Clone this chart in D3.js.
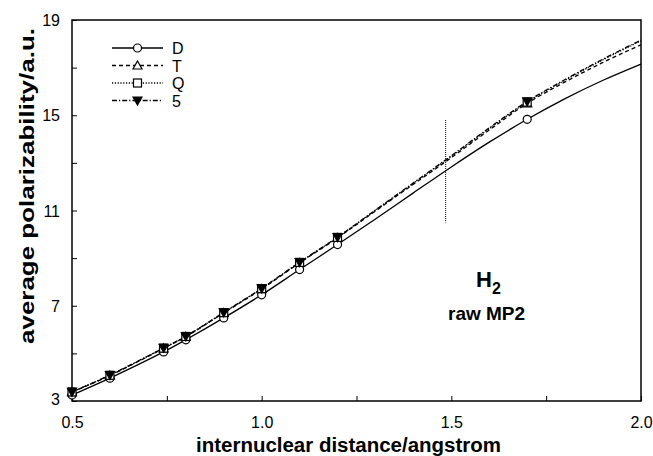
<!DOCTYPE html>
<html>
<head>
<meta charset="utf-8">
<script src="https://cdn.jsdelivr.net/npm/d3@7"></script>
<style>
  body { margin: 0; background: #fff; }
  text { font-family: "Liberation Sans", Arial, Helvetica, sans-serif; }
</style>
</head>
<body>
<svg width="653" height="456"></svg>
<script>
// distance grid (angstrom) and the points that carry a marker
const rGrid   = [0.5, 0.6, 0.7414, 0.8, 0.9, 1.0, 1.1, 1.2, 1.3, 1.4, 1.5, 1.6, 1.7, 1.8, 1.9, 2.0];
const markedR = [0.5, 0.6, 0.7414, 0.8, 0.9, 1.0, 1.1, 1.2, 1.7];

// average polarizability, a.u.
const alphaD  = [3.25, 3.96, 5.06, 5.57, 6.49, 7.46, 8.52, 9.57, 10.64, 11.74, 12.83, 13.87, 14.83, 15.70, 16.47, 17.15];
const alphaT  = [3.37, 4.07, 5.21, 5.70, 6.70, 7.70, 8.80, 9.85, 10.98, 12.10, 13.22, 14.38, 15.50, 16.40, 17.22, 17.96];
const alphaQ  = [3.38, 4.08, 5.22, 5.71, 6.71, 7.72, 8.82, 9.87, 11.01, 12.14, 13.27, 14.44, 15.55, 16.47, 17.33, 18.12];
const alpha5  = [3.38, 4.09, 5.23, 5.72, 6.72, 7.73, 8.83, 9.88, 11.02, 12.16, 13.30, 14.47, 15.58, 16.50, 17.36, 18.16];

const seriesNames = ["D", "T", "Q", "5"];
const xTicks = [0.5, 1.0, 1.5, 2.0];
const yTicks = [3, 7, 11, 15, 19];

const margin = {top: 20, right: 12, bottom: 55, left: 72};
const W = 653, H = 456;
const iw = W - margin.left - margin.right;
const ih = H - margin.top - margin.bottom;

const svg = d3.select("svg");
const g = svg.append("g").attr("transform", `translate(${margin.left},${margin.top})`);

const x = d3.scaleLinear().domain([0.5, 2.0]).range([0, iw]);
const y = d3.scaleLinear().domain([3, 19]).range([ih, 0]);

const styles = {
    "D": {dash: null,        marker: "circle"},
    "T": {dash: "4,3",       marker: "up"},
    "Q": {dash: "1.2,1.6",   marker: "square"},
    "5": {dash: "5,2,1.2,2", marker: "down"}
};
const allValues = {"D": alphaD, "T": alphaT, "Q": alphaQ, "5": alpha5};

// frame
g.append("rect")
    .attr("width", iw).attr("height", ih)
    .attr("fill", "none").attr("stroke", "#000").attr("stroke-width", 1.5);

// axes, ticks pointing inward
const xAxis = g.append("g").attr("transform", `translate(0,${ih})`)
    .call(d3.axisBottom(x).tickValues(d3.range(0.5, 2.01, 0.25)).tickSize(-5).tickPadding(16)
        .tickFormat(d => xTicks.includes(d) ? d3.format(".1f")(d) : ""));
const yAxis = g.append("g")
    .call(d3.axisLeft(y).tickValues(d3.range(3, 19.1, 2)).tickSize(-5).tickPadding(12)
        .tickFormat(d => yTicks.includes(d) ? d : ""));
[xAxis, yAxis].forEach(a => {
    a.select(".domain").remove();
    a.selectAll("line").attr("stroke", "#000");
    a.selectAll("text").attr("font-size", 16).attr("fill", "#000")
        .style("font-family", "'Liberation Sans', Arial, sans-serif");
});
yAxis.selectAll("text").attr("dy", "0.35em");
yAxis.selectAll(".tick").filter(d => d === 3).select("text").attr("dy", "0.2em");

// vertical dotted marker line
g.append("line")
    .attr("x1", x(1.485)).attr("x2", x(1.485))
    .attr("y1", y(14.8)).attr("y2", y(10.5))
    .attr("stroke", "#000").attr("stroke-width", 1).attr("stroke-dasharray", "1,1");

const line = d3.line()
    .x(d => x(d.r))
    .y(d => y(d.a))
    .curve(d3.curveCatmullRom);

function drawMarker(sel, type, cx, cy) {
    const s = 4;
    if (type === "circle") {
        sel.append("circle").attr("cx", cx).attr("cy", cy).attr("r", s)
            .attr("fill", "#fff").attr("stroke", "#000").attr("stroke-width", 1.2);
    } else if (type === "square") {
        sel.append("rect").attr("x", cx - s).attr("y", cy - s).attr("width", 2*s).attr("height", 2*s)
            .attr("fill", "#fff").attr("stroke", "#000").attr("stroke-width", 1.2);
    } else if (type === "up") {
        sel.append("path").attr("d", `M${cx},${cy - s - 0.5}L${cx + s + 0.5},${cy + s - 0.5}L${cx - s - 0.5},${cy + s - 0.5}Z`)
            .attr("fill", "#fff").attr("stroke", "#000").attr("stroke-width", 1.2);
    } else {
        sel.append("path").attr("d", `M${cx},${cy + s + 0.5}L${cx + s + 0.5},${cy - s + 0.5}L${cx - s - 0.5},${cy - s + 0.5}Z`)
            .attr("fill", "#000").attr("stroke", "#000").attr("stroke-width", 1.2);
    }
}

// lines first, markers on top (D at bottom, 5 last)
const seriesPts = seriesNames.map(name => rGrid.map((r, i) => ({r: r, a: allValues[name][i]})));
seriesNames.forEach((name, k) => {
    g.append("path")
        .attr("d", line(seriesPts[k]))
        .attr("fill", "none").attr("stroke", "#000").attr("stroke-width", 1.3)
        .attr("stroke-dasharray", styles[name].dash);
});
seriesNames.forEach((name, k) => {
    const mg = g.append("g");
    seriesPts[k].filter(p => markedR.includes(p.r))
        .forEach(p => drawMarker(mg, styles[name].marker, x(p.r), y(p.a)));
});

// legend
const legend = svg.append("g");
seriesNames.forEach((name, i) => {
    const ly = 48 + i * 17.5;
    legend.append("line")
        .attr("x1", 112).attr("x2", 163).attr("y1", ly).attr("y2", ly)
        .attr("stroke", "#000").attr("stroke-width", 1.3)
        .attr("stroke-dasharray", styles[name].dash);
    drawMarker(legend, styles[name].marker, 137.5, ly);
    legend.append("text")
        .attr("x", 172).attr("y", ly + 6)
        .attr("font-size", 16).text(name);
});

// annotation
const h2 = svg.append("text").attr("x", 476).attr("y", 287)
    .attr("font-size", 22).attr("font-weight", "bold");
h2.append("tspan").text("H");
h2.append("tspan").attr("font-size", 16).attr("dy", 7).text("2");
svg.append("text").attr("x", 448).attr("y", 320)
    .attr("font-size", 19).attr("font-weight", "bold").text("raw MP2");

// axis titles
svg.append("text")
    .attr("x", margin.left + iw / 2 - 8).attr("y", 452)
    .attr("text-anchor", "middle")
    .attr("font-size", 20).attr("font-weight", "bold")
    .attr("textLength", 305).attr("lengthAdjust", "spacingAndGlyphs")
    .text("internuclear distance/angstrom");
svg.append("text")
    .attr("transform", `translate(34,${186}) rotate(-90)`)
    .attr("text-anchor", "middle")
    .attr("font-size", 21).attr("font-weight", "bold")
    .attr("textLength", 316).attr("lengthAdjust", "spacingAndGlyphs")
    .text("average polarizability/a.u.");
</script>
</body>
</html>
